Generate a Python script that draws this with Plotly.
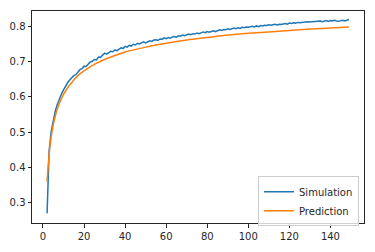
import plotly.graph_objects as go

sim_x = list(range(2, 150))
sim_y = [
    0.270, 0.448, 0.502, 0.536, 0.560, 0.579, 0.596, 0.608, 0.620, 0.631,
    0.640, 0.648, 0.655, 0.660, 0.663, 0.671, 0.677, 0.680, 0.687, 0.686,
    0.693, 0.699, 0.701, 0.706, 0.705, 0.713, 0.712, 0.718, 0.724, 0.721,
    0.726, 0.729, 0.728, 0.733, 0.731, 0.736, 0.739, 0.737, 0.743, 0.741,
    0.746, 0.744, 0.749, 0.747, 0.752, 0.750, 0.754, 0.756, 0.753, 0.757,
    0.759, 0.757, 0.761, 0.762, 0.760, 0.764, 0.763, 0.767, 0.765, 0.768,
    0.766, 0.770, 0.771, 0.769, 0.773, 0.772, 0.775, 0.773, 0.776, 0.778,
    0.776, 0.779, 0.778, 0.781, 0.779, 0.782, 0.784, 0.782, 0.785, 0.783,
    0.786, 0.787, 0.785, 0.788, 0.790, 0.788, 0.791, 0.790, 0.793, 0.791,
    0.794, 0.795, 0.793, 0.796, 0.794, 0.797, 0.796, 0.798, 0.797, 0.799,
    0.800, 0.798, 0.801, 0.799, 0.802, 0.801, 0.803, 0.802, 0.804, 0.803,
    0.805, 0.806, 0.804, 0.806, 0.805, 0.807, 0.808, 0.806, 0.809, 0.808,
    0.810, 0.809, 0.811, 0.810, 0.811, 0.812, 0.811, 0.813, 0.812, 0.813,
    0.814, 0.813, 0.814, 0.815, 0.813, 0.815, 0.816, 0.814, 0.816, 0.815,
    0.817, 0.815, 0.814, 0.816, 0.817, 0.815, 0.816, 0.819,
]

pred_x = [2, 3, 4, 5, 6, 7, 8, 9, 10, 12, 14, 16, 18, 20, 25, 30, 35, 40,
          50, 60, 70, 80, 90, 100, 110, 120, 130, 140, 149]
pred_y = [0.360, 0.438, 0.487, 0.521, 0.546, 0.566, 0.582, 0.595, 0.607,
          0.626, 0.641, 0.654, 0.665, 0.674, 0.692, 0.706, 0.717, 0.727,
          0.741, 0.752, 0.761, 0.768, 0.775, 0.780, 0.784, 0.788, 0.792,
          0.795, 0.798]

x_ticks = [0, 20, 40, 60, 80, 100, 120, 140]
y_ticks = [0.3, 0.4, 0.5, 0.6, 0.7, 0.8]

fig = go.Figure()
fig.add_trace(go.Scatter(x=sim_x, y=sim_y, mode="lines", name="Simulation",
                         line=dict(color="#1f77b4", width=1.5)))
fig.add_trace(go.Scatter(x=pred_x, y=pred_y, mode="lines", name="Prediction",
                         line=dict(color="#ff7f0e", width=1.5, shape="spline")))

axis_common = dict(showgrid=False, zeroline=False, showline=True, mirror=True,
                   linecolor="#262626", linewidth=1, ticks="outside",
                   ticklen=3.5, tickwidth=1, tickcolor="#262626",
                   tickfont=dict(family="DejaVu Sans", size=10, color="#262626"))

fig.update_layout(
    width=375, height=252,
    margin=dict(l=30, r=10, t=10, b=24),
    paper_bgcolor="white", plot_bgcolor="white",
    xaxis=dict(range=[-5.35, 156.35], tickvals=x_ticks, **axis_common),
    yaxis=dict(range=[0.2427, 0.8433], tickvals=y_ticks,
               ticktext=[f"{v:.1f}" for v in y_ticks], **axis_common),
    legend=dict(x=0.985, y=-0.015, xanchor="right", yanchor="bottom",
                bgcolor="rgba(255,255,255,0.8)", bordercolor="#cccccc",
                borderwidth=1, font=dict(family="DejaVu Sans", size=10, color="#262626"),
                itemwidth=30, tracegroupgap=0),
    showlegend=True,
)

fig.write_html("out.html", config={"displayModeBar": False},
               post_script="document.body.style.margin='0';document.body.style.overflow='hidden';")
